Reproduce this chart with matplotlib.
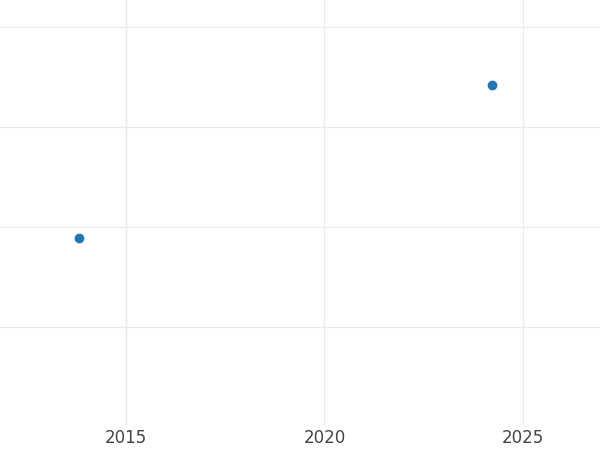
import matplotlib
matplotlib.use('Agg')
import matplotlib.pyplot as plt

years = [2013.82, 2024.22]
values = [0.89, 2.42]
xticks = [2015, 2020, 2025]
yticks = [0, 1, 2, 3]

fig = plt.figure(figsize=(6, 4.5), dpi=100)
ax = fig.add_axes([0, 0.055, 1, 0.945])
ax.scatter(years, values, s=36, color='#1f77b4', zorder=3)
ax.set_xlim(2011.83, 2026.94)
ax.set_ylim(-0.98, 3.27)
ax.set_xticks(xticks)
ax.set_yticks(yticks)
ax.set_yticklabels([])
ax.grid(True, color='#ebebeb', linewidth=0.8)
ax.axvline(2015, color='#e6e6e6', linewidth=1.0, zorder=1)
for s in ax.spines.values():
    s.set_visible(False)
ax.tick_params(length=0, labelsize=12, labelcolor='#444444', pad=3)
fig.savefig('out.png', dpi=100)
